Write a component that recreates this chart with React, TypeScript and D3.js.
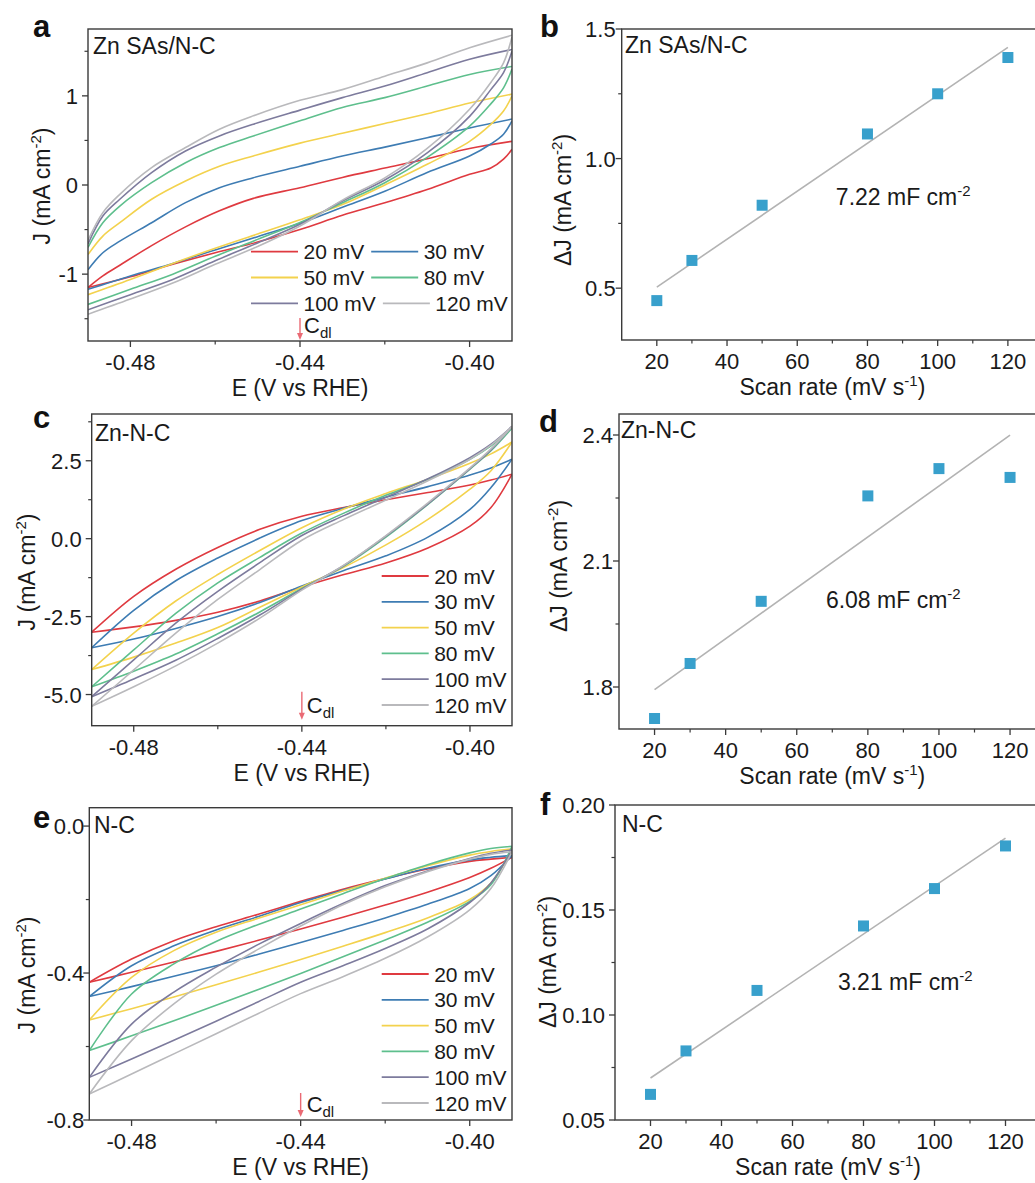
import React from 'react';
import * as d3 from 'd3';

const FONT = "'Liberation Sans', Arial, Helvetica, sans-serif";

// ---- shared series styling ----
const RATE_LABELS = ['20 mV', '30 mV', '50 mV', '80 mV', '100 mV', '120 mV'];
const RATE_COLORS = ['#df3a40', '#3e7cb3', '#f3d24d', '#5ebf8d', '#7d7b9d', '#b9b9bc'];

// ---- CV axes ----
const CV_X_DOMAIN: [number, number] = [-0.49, -0.39];
const CV_X_MAJOR = [-0.48, -0.44, -0.4];
const CV_X_MINOR = [-0.46, -0.42];

// ---- Zn SAs/N-C cyclic voltammograms (J in mA cm-2) ----
const E_A_UP = [-0.49, -0.4865, -0.4825, -0.475, -0.467, -0.459, -0.451, -0.44, -0.43, -0.42, -0.41, -0.4, -0.39];
const J_A_UP = [
  [-1.15, -1.02, -0.9, -0.68, -0.47, -0.29, -0.15, -0.03, 0.085, 0.19, 0.295, 0.41, 0.49],
  [-0.95, -0.76, -0.63, -0.423, -0.198, -0.03, 0.082, 0.21, 0.325, 0.425, 0.53, 0.64, 0.74],
  [-0.78, -0.573, -0.423, -0.16, 0.045, 0.21, 0.326, 0.47, 0.58, 0.69, 0.8, 0.92, 1.02],
  [-0.7, -0.423, -0.236, 0.026, 0.25, 0.42, 0.55, 0.72, 0.87, 0.98, 1.11, 1.24, 1.33],
  [-0.66, -0.348, -0.16, 0.139, 0.382, 0.551, 0.682, 0.84, 0.98, 1.11, 1.26, 1.41, 1.52],
  [-0.62, -0.31, -0.105, 0.195, 0.42, 0.626, 0.776, 0.95, 1.07, 1.22, 1.37, 1.54, 1.68],
];
const E_A_LO = [-0.49, -0.48, -0.47, -0.46, -0.45, -0.44, -0.43, -0.42, -0.41, -0.4, -0.395, -0.392, -0.39];
const J_A_LO = [
  [-1.15, -1.03, -0.89, -0.76, -0.64, -0.5, -0.34, -0.2, -0.05, 0.12, 0.19, 0.29, 0.4],
  [-1.17, -1.02, -0.88, -0.73, -0.58, -0.43, -0.25, -0.07, 0.14, 0.325, 0.46, 0.57, 0.72],
  [-1.23, -1.06, -0.88, -0.71, -0.55, -0.39, -0.22, 0.0, 0.232, 0.49, 0.68, 0.83, 1.0],
  [-1.34, -1.17, -1.0, -0.8, -0.61, -0.42, -0.2, 0.026, 0.31, 0.66, 0.91, 1.09, 1.3],
  [-1.4, -1.23, -1.06, -0.85, -0.65, -0.44, -0.18, 0.056, 0.36, 0.77, 1.07, 1.26, 1.5],
  [-1.45, -1.28, -1.1, -0.89, -0.69, -0.46, -0.17, 0.08, 0.41, 0.85, 1.15, 1.37, 1.66],
];

// ---- Zn-N-C cyclic voltammograms ----
const E_C = [-0.49, -0.48, -0.47, -0.46, -0.45, -0.44, -0.43, -0.42, -0.41, -0.4, -0.395, -0.39];
const J_C_UP = [
  [-3.0, -1.85, -0.98, -0.28, 0.3, 0.72, 1.0, 1.25, 1.48, 1.72, 1.88, 2.07],
  [-3.5, -2.3, -1.35, -0.62, 0.02, 0.58, 0.98, 1.33, 1.67, 2.04, 2.27, 2.55],
  [-4.2, -3.03, -2.0, -1.15, -0.38, 0.35, 0.95, 1.45, 1.91, 2.42, 2.72, 3.1],
  [-4.75, -3.57, -2.4, -1.42, -0.6, 0.18, 0.82, 1.39, 1.91, 2.55, 2.98, 3.55],
  [-5.07, -3.89, -2.71, -1.69, -0.77, 0.1, 0.74, 1.33, 1.92, 2.6, 3.03, 3.6],
  [-5.38, -4.21, -3.03, -1.95, -0.99, -0.05, 0.62, 1.24, 1.86, 2.55, 3.0, 3.6],
];
const J_C_LO = [
  [-3.0, -2.83, -2.62, -2.36, -2.0, -1.55, -1.15, -0.78, -0.3, 0.4, 1.0, 2.07],
  [-3.5, -3.22, -2.88, -2.5, -2.05, -1.52, -1.02, -0.55, 0.05, 0.94, 1.64, 2.55],
  [-4.2, -3.8, -3.35, -2.85, -2.2, -1.55, -0.92, -0.2, 0.62, 1.59, 2.18, 3.1],
  [-4.75, -4.25, -3.7, -3.05, -2.35, -1.6, -0.88, 0.05, 1.1, 2.23, 2.82, 3.55],
  [-5.07, -4.5, -3.9, -3.2, -2.45, -1.62, -0.86, 0.08, 1.12, 2.25, 2.85, 3.6],
  [-5.38, -4.75, -4.08, -3.35, -2.55, -1.65, -0.85, 0.1, 1.15, 2.27, 2.88, 3.6],
];

// ---- N-C cyclic voltammograms ----
const E_E = [-0.49, -0.48, -0.47, -0.46, -0.45, -0.44, -0.43, -0.42, -0.41, -0.4, -0.395, -0.39];
const J_E_UP = [
  [-0.425, -0.362, -0.312, -0.274, -0.24, -0.205, -0.172, -0.143, -0.117, -0.096, -0.09, -0.085],
  [-0.464, -0.38, -0.326, -0.283, -0.246, -0.208, -0.175, -0.144, -0.115, -0.092, -0.085, -0.08],
  [-0.528, -0.412, -0.339, -0.289, -0.251, -0.214, -0.177, -0.142, -0.108, -0.079, -0.069, -0.062],
  [-0.611, -0.457, -0.375, -0.314, -0.268, -0.226, -0.184, -0.143, -0.105, -0.073, -0.061, -0.055],
  [-0.684, -0.539, -0.452, -0.384, -0.322, -0.265, -0.211, -0.162, -0.122, -0.088, -0.074, -0.065],
  [-0.729, -0.584, -0.484, -0.403, -0.335, -0.272, -0.214, -0.165, -0.124, -0.09, -0.077, -0.07],
];
const J_E_LO = [
  [-0.425, -0.398, -0.37, -0.341, -0.311, -0.28, -0.248, -0.215, -0.18, -0.14, -0.115, -0.085],
  [-0.464, -0.437, -0.409, -0.38, -0.349, -0.317, -0.284, -0.25, -0.213, -0.17, -0.135, -0.08],
  [-0.528, -0.497, -0.465, -0.432, -0.398, -0.363, -0.327, -0.29, -0.25, -0.2, -0.155, -0.065],
  [-0.611, -0.571, -0.53, -0.488, -0.445, -0.401, -0.356, -0.31, -0.262, -0.205, -0.16, -0.055],
  [-0.684, -0.634, -0.583, -0.531, -0.478, -0.425, -0.38, -0.333, -0.28, -0.208, -0.155, -0.065],
  [-0.729, -0.675, -0.62, -0.565, -0.51, -0.456, -0.41, -0.36, -0.302, -0.228, -0.17, -0.07],
];

// ---- double-layer current differences vs scan rate ----
const SCAN_RATES = [20, 30, 50, 80, 100, 120];
const SCAN_X_DOMAIN: [number, number] = [10, 130];
const SCAN_X_MAJOR = [20, 40, 60, 80, 100, 120];
const SCAN_X_MINOR = [30, 50, 70, 90, 110];
const DJ_ZNSAS = [0.452, 0.607, 0.82, 1.095, 1.25, 1.39];
const DJ_ZNNC = [1.725, 1.856, 2.004, 2.255, 2.32, 2.299];
const DJ_NC = [0.0622, 0.0829, 0.1117, 0.1424, 0.1602, 0.1805];
const CDL_VALUES = ['7.22', '6.08', '3.21'];

const AXIS_COLOR = '#3a3a3a';
const MARKER_COLOR = '#38a0cc';
const FIT_COLOR = '#b3b3b3';
const ARROW_COLOR = '#ea6a74';
const TEXT_COLOR = '#1a1a1a';

const TICK_SIZE = 22;
const TITLE_SIZE = 23;

const fmtMinus = (f: (v: number) => string) => (v: number) => f(v).replace(/\u2212/g, '-');

let measureCtx: CanvasRenderingContext2D | null = null;
function textWidth(s: string, size: number): number {
  if (!measureCtx) measureCtx = document.createElement('canvas').getContext('2d');
  if (!measureCtx) return s.length * size * 0.55;
  measureCtx.font = `${size}px ${FONT}`;
  return measureCtx.measureText(s).width;
}

type Box = { l: number; t: number; r: number; b: number };

function UnitLabel({ x, y, prefix }: { x: number; y: number; prefix: string }) {
  return (
    <text
      transform={`translate(${x},${y}) rotate(-90)`}
      textAnchor="middle"
      fontSize={TITLE_SIZE}
      fontFamily={FONT}
      fill={TEXT_COLOR}
    >
      {prefix}
      <tspan dy={-9} fontSize={15}>-2</tspan>
      <tspan dy={9}>)</tspan>
    </text>
  );
}

function Frame({
  box, x, y, xMajor, xMinor, yMajor, yMinor, xFmt, yFmt, yGap,
}: {
  box: Box; x: d3.ScaleLinear<number, number>; y: d3.ScaleLinear<number, number>;
  xMajor: number[]; xMinor: number[]; yMajor: number[]; yMinor: number[];
  xFmt: (v: number) => string; yFmt: (v: number) => string; yGap: number;
}) {
  const major = 6;
  const minor = 3.5;
  return (
    <g>
      <rect x={box.l} y={box.t} width={box.r - box.l} height={box.b - box.t} fill="none" stroke={AXIS_COLOR} strokeWidth={1.4} />
      {xMajor.map((v) => (
        <g key={`xm${v}`}>
          <line x1={x(v)} x2={x(v)} y1={box.b} y2={box.b + major} stroke={AXIS_COLOR} strokeWidth={1.3} />
          <text x={x(v)} y={box.b + 29} textAnchor="middle" fontSize={TICK_SIZE} fontFamily={FONT} fill={TEXT_COLOR}>{xFmt(v)}</text>
        </g>
      ))}
      {xMinor.map((v) => (
        <line key={`xn${v}`} x1={x(v)} x2={x(v)} y1={box.b} y2={box.b + minor} stroke={AXIS_COLOR} strokeWidth={1.2} />
      ))}
      {yMajor.map((v) => (
        <g key={`ym${v}`}>
          <line x1={box.l - major} x2={box.l} y1={y(v)} y2={y(v)} stroke={AXIS_COLOR} strokeWidth={1.3} />
          <text x={box.l - yGap} y={y(v) + 8} textAnchor="end" fontSize={TICK_SIZE} fontFamily={FONT} fill={TEXT_COLOR}>{yFmt(v)}</text>
        </g>
      ))}
      {yMinor.map((v) => (
        <line key={`yn${v}`} x1={box.l - minor} x2={box.l} y1={y(v)} y2={y(v)} stroke={AXIS_COLOR} strokeWidth={1.2} />
      ))}
    </g>
  );
}

type CVConfig = {
  id: string; letter: string; name: string; box: Box;
  yDomain: [number, number]; yMajor: number[]; yMinor: number[]; yFmt: (v: number) => string; yGap: number;
  eUp: number[]; jUp: number[][]; eLo: number[]; jLo: number[][];
  legend: 'grid' | 'column'; legendX: number; legendY: number;
  yTitleX: number; yTitleY: number;
  arrowTop: number; arrowTip: number; cdlDx: number; cdlBase: number;
  nameX: number; nameY: number; letterX: number; letterY: number;
};

function CVPanel({ c }: { c: CVConfig }) {
  const { box } = c;
  const x = d3.scaleLinear().domain(CV_X_DOMAIN).range([box.l, box.r]);
  const y = d3.scaleLinear().domain(c.yDomain).range([box.b, box.t]);
  const line = d3
    .line<[number, number]>()
    .x((d) => x(d[0]))
    .y((d) => y(d[1]))
    .curve(d3.curveCatmullRom.alpha(0.5));
  const xFmt = fmtMinus(d3.format('.2f'));
  const legendSize = 21;
  const rowGap = 25.8;
  const lineLen = 47;

  const legendItems: { lx: number; ly: number; i: number }[] = [];
  if (c.legend === 'column') {
    RATE_LABELS.forEach((_, i) => legendItems.push({ lx: c.legendX, ly: c.legendY + i * rowGap, i }));
  } else {
    for (let row = 0; row < 3; row++) {
      const i0 = row * 2;
      const i1 = row * 2 + 1;
      legendItems.push({ lx: c.legendX, ly: c.legendY + row * rowGap, i: i0 });
      const next = c.legendX + lineLen + 5.5 + textWidth(RATE_LABELS[i0], legendSize) + 7;
      legendItems.push({ lx: next, ly: c.legendY + row * rowGap, i: i1 });
    }
  }
  const ax = x(-0.44);

  return (
    <g>
      <defs>
        <clipPath id={`clip-${c.id}`}>
          <rect x={box.l} y={box.t} width={box.r - box.l} height={box.b - box.t} />
        </clipPath>
      </defs>
      <g clipPath={`url(#clip-${c.id})`}>
        {RATE_LABELS.map((_, i) => {
          const up = c.eUp.map((e, k) => [e, c.jUp[i][k]] as [number, number]);
          const lo = c.eLo.map((e, k) => [e, c.jLo[i][k]] as [number, number]);
          return (
            <g key={`cv${i}`} fill="none" stroke={RATE_COLORS[i]} strokeWidth={1.6}>
              <path d={line(up) || ''} />
              <path d={line(lo) || ''} />
            </g>
          );
        })}
      </g>
      <Frame
        box={box} x={x} y={y}
        xMajor={CV_X_MAJOR} xMinor={CV_X_MINOR} yMajor={c.yMajor} yMinor={c.yMinor}
        xFmt={xFmt} yFmt={c.yFmt} yGap={c.yGap}
      />
      {legendItems.map(({ lx, ly, i }) => (
        <g key={`lg${i}`}>
          <line x1={lx} x2={lx + lineLen} y1={ly} y2={ly} stroke={RATE_COLORS[i]} strokeWidth={1.8} />
          <text x={lx + lineLen + 5.5} y={ly + 7.5} fontSize={legendSize} fontFamily={FONT} fill={TEXT_COLOR}>{RATE_LABELS[i]}</text>
        </g>
      ))}
      {/* potential used for the double-layer capacitance */}
      <line x1={ax} x2={ax} y1={box.b - c.arrowTop} y2={box.b - c.arrowTip - 6} stroke={ARROW_COLOR} strokeWidth={1.4} />
      <path
        d={`M${ax - 3},${box.b - c.arrowTip - 7} L${ax + 3},${box.b - c.arrowTip - 7} L${ax},${box.b - c.arrowTip} Z`}
        fill={ARROW_COLOR}
      />
      <text x={ax + c.cdlDx} y={box.b - c.cdlBase} fontSize={22} fontFamily={FONT} fill={TEXT_COLOR}>
        C<tspan dy={5} fontSize={15}>dl</tspan>
      </text>
      <text x={c.nameX} y={c.nameY} fontSize={23} fontFamily={FONT} fill={TEXT_COLOR}>{c.name}</text>
      <text x={c.letterX} y={c.letterY} fontSize={31} fontWeight="bold" fontFamily={FONT} fill="#111">{c.letter}</text>
      <text x={(box.l + box.r) / 2} y={box.b + 55} textAnchor="middle" fontSize={TITLE_SIZE} fontFamily={FONT} fill={TEXT_COLOR}>E (V vs RHE)</text>
      <UnitLabel x={c.yTitleX} y={c.yTitleY} prefix="J (mA cm" />
    </g>
  );
}

type ScanConfig = {
  id: string; letter: string; name: string; box: Box;
  yDomain: [number, number]; yMajor: number[]; yMinor: number[]; yFmt: (v: number) => string; yGap: number;
  values: number[]; cdl: string; labelAt: [number, number];
  yTitleX: number; yTitleY: number; nameX: number; nameY: number; letterX: number; letterY: number;
};

function ScanPanel({ c }: { c: ScanConfig }) {
  const { box } = c;
  const x = d3.scaleLinear().domain(SCAN_X_DOMAIN).range([box.l, box.r]);
  const y = d3.scaleLinear().domain(c.yDomain).range([box.b, box.t]);
  // least-squares line through the six points
  const mx = d3.mean(SCAN_RATES) as number;
  const my = d3.mean(c.values) as number;
  const sxy = d3.sum(SCAN_RATES.map((v, i) => (v - mx) * (c.values[i] - my)));
  const sxx = d3.sum(SCAN_RATES.map((v) => (v - mx) * (v - mx)));
  const slope = sxy / sxx;
  const icpt = my - slope * mx;
  const x0 = SCAN_RATES[0];
  const x1 = SCAN_RATES[SCAN_RATES.length - 1];
  const fit = d3.line<number>().x((v) => x(v)).y((v) => y(icpt + slope * v));
  const sq = 11;
  return (
    <g>
      <path d={fit([x0, x1]) || ''} fill="none" stroke={FIT_COLOR} strokeWidth={1.6} />
      {SCAN_RATES.map((v, i) => (
        <rect key={`p${v}`} x={x(v) - sq / 2} y={y(c.values[i]) - sq / 2} width={sq} height={sq} fill={MARKER_COLOR} />
      ))}
      <Frame
        box={box} x={x} y={y}
        xMajor={SCAN_X_MAJOR} xMinor={SCAN_X_MINOR} yMajor={c.yMajor} yMinor={c.yMinor}
        xFmt={(v) => String(v)} yFmt={c.yFmt} yGap={c.yGap}
      />
      <text x={x(c.labelAt[0])} y={y(c.labelAt[1])} fontSize={23} fontFamily={FONT} fill={TEXT_COLOR}>
        {c.cdl} mF cm<tspan dy={-9} fontSize={15}>-2</tspan>
      </text>
      <text x={c.nameX} y={c.nameY} fontSize={23} fontFamily={FONT} fill={TEXT_COLOR}>{c.name}</text>
      <text x={c.letterX} y={c.letterY} fontSize={31} fontWeight="bold" fontFamily={FONT} fill="#111">{c.letter}</text>
      <text x={(box.l + box.r) / 2} y={box.b + 55} textAnchor="middle" fontSize={TITLE_SIZE} fontFamily={FONT} fill={TEXT_COLOR}>
        Scan rate (mV s<tspan dy={-9} fontSize={15}>-1</tspan>
        <tspan dy={9}>)</tspan>
      </text>
      <UnitLabel x={c.yTitleX} y={c.yTitleY} prefix={'\u0394J (mA cm'} />
    </g>
  );
}

const f1 = fmtMinus(d3.format('.1f'));
const f2 = fmtMinus(d3.format('.2f'));
const fInt = (v: number) => String(v);

const CV_PANELS: CVConfig[] = [
  {
    id: 'a', letter: 'a', name: 'Zn SAs/N-C', box: { l: 88, t: 29, r: 512, b: 341 },
    yDomain: [-1.75, 1.75], yMajor: [-1, 0, 1], yMinor: [-1.5, -0.5, 0.5, 1.5], yFmt: fInt, yGap: 10,
    eUp: E_A_UP, jUp: J_A_UP, eLo: E_A_LO, jLo: J_A_LO,
    legend: 'grid', legendX: 251, legendY: 251.7,
    yTitleX: 50, yTitleY: 186,
    arrowTop: 23, arrowTip: 1, cdlDx: 4, cdlBase: 8,
    nameX: 93, nameY: 54, letterX: 33, letterY: 37,
  },
  {
    id: 'c', letter: 'c', name: 'Zn-N-C', box: { l: 91.7, t: 414, r: 512, b: 725.7 },
    yDomain: [-6, 4], yMajor: [-5, -2.5, 0, 2.5], yMinor: [-3.75, -1.25, 1.25, 3.75], yFmt: f1, yGap: 10,
    eUp: E_C, jUp: J_C_UP, eLo: E_C, jLo: J_C_LO,
    legend: 'column', legendX: 381.7, legendY: 576,
    yTitleX: 35, yTitleY: 572,
    arrowTop: 34, arrowTip: 6, cdlDx: 5, cdlBase: 13,
    nameX: 95, nameY: 441, letterX: 33, letterY: 428,
  },
  {
    id: 'e', letter: 'e', name: 'N-C', box: { l: 89.3, t: 807.7, r: 512, b: 1120 },
    yDomain: [-0.8, 0.05], yMajor: [-0.8, -0.4, 0], yMinor: [-0.6, -0.2], yFmt: f1, yGap: 5,
    eUp: E_E, jUp: J_E_UP, eLo: E_E, jLo: J_E_LO,
    legend: 'column', legendX: 381.7, legendY: 974,
    yTitleX: 35, yTitleY: 975,
    arrowTop: 27, arrowTip: 3, cdlDx: 6, cdlBase: 8,
    nameX: 94, nameY: 833, letterX: 33, letterY: 828,
  },
];

const SCAN_PANELS: ScanConfig[] = [
  {
    id: 'b', letter: 'b', name: 'Zn SAs/N-C', box: { l: 621.7, t: 29, r: 1043, b: 340 },
    yDomain: [0.3, 1.5], yMajor: [0.5, 1.0, 1.5], yMinor: [0.75, 1.25], yFmt: f1, yGap: 6,
    values: DJ_ZNSAS, cdl: CDL_VALUES[0], labelAt: [71, 0.82],
    yTitleX: 571, yTitleY: 200, nameX: 625, nameY: 53, letterX: 540, letterY: 37,
  },
  {
    id: 'd', letter: 'd', name: 'Zn-N-C', box: { l: 619, t: 414, r: 1045.6, b: 729 },
    yDomain: [1.7, 2.45], yMajor: [1.8, 2.1, 2.4], yMinor: [1.95, 2.25], yFmt: f1, yGap: 6,
    values: DJ_ZNNC, cdl: CDL_VALUES[1], labelAt: [68.2, 1.988],
    yTitleX: 567, yTitleY: 566, nameX: 621, nameY: 438, letterX: 539, letterY: 432,
  },
  {
    id: 'f', letter: 'f', name: 'N-C', box: { l: 615, t: 805, r: 1041, b: 1120 },
    yDomain: [0.05, 0.2], yMajor: [0.05, 0.1, 0.15, 0.2], yMinor: [0.075, 0.125, 0.175], yFmt: f2, yGap: 10,
    values: DJ_NC, cdl: CDL_VALUES[2], labelAt: [72.8, 0.112],
    yTitleX: 556, yTitleY: 962, nameX: 622, nameY: 832, letterX: 540, letterY: 815,
  },
];

export default function App() {
  return (
    <div style={{ position: 'absolute', left: 0, top: 0 }}>
      <svg width={1035} height={1183} viewBox="0 0 1035 1183" style={{ display: 'block', background: '#fff' }}>
        <rect x={0} y={0} width={1035} height={1183} fill="#fff" />
        {CV_PANELS.map((c) => (
          <CVPanel key={c.id} c={c} />
        ))}
        {SCAN_PANELS.map((c) => (
          <ScanPanel key={c.id} c={c} />
        ))}
      </svg>
    </div>
  );
}
